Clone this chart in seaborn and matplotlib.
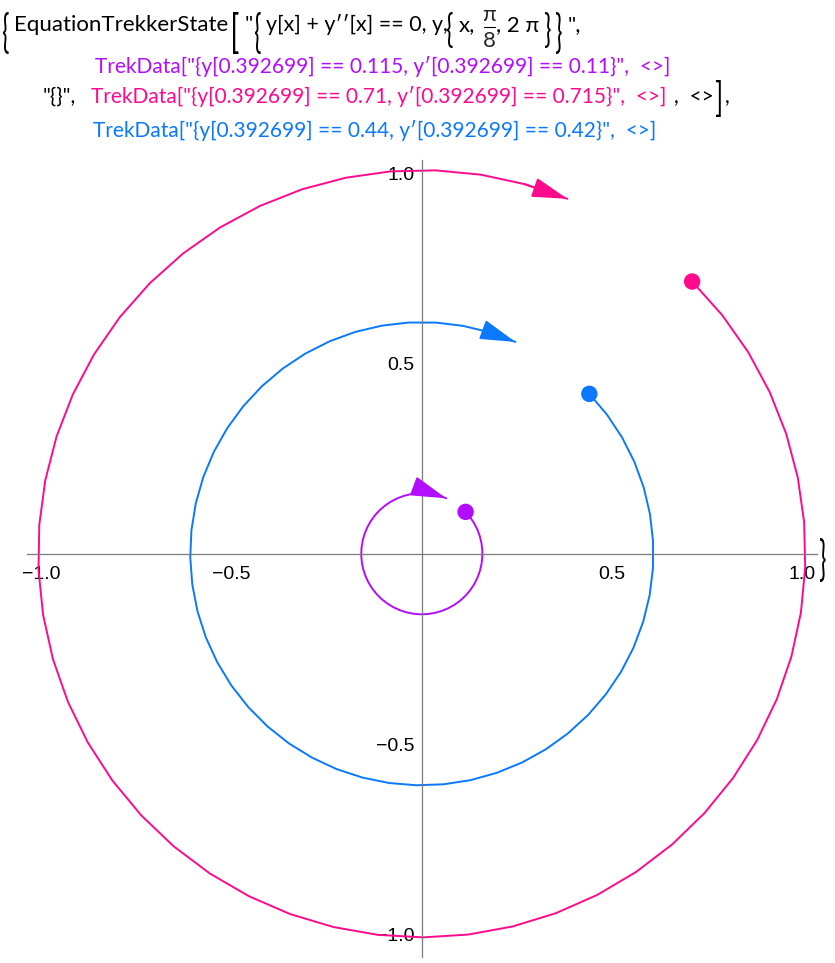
import matplotlib
matplotlib.use('Agg')
import matplotlib.pyplot as plt
from matplotlib.lines import Line2D
from matplotlib.textpath import TextPath
from matplotlib.patches import PathPatch
from matplotlib.font_manager import FontProperties
from matplotlib.transforms import Affine2D
import seaborn as sns
import pandas as pd
import numpy as np

# three treks of y'' + y == 0, started at x = pi/8 and run to 2 pi
trek_names = ['purple', 'pink', 'blue']
trek_colors = ['#b20dff', '#ff0a8c', '#0a78ff']
y_start = [0.115, 0.71, 0.44]
yp_start = [0.11, 0.715, 0.42]
x_start = 0.392699
x_end = 2 * np.pi
n_steps = 50

major_ticks = [-1.0, -0.5, 0.5, 1.0]
major_labels = ['\u22121.0', '\u22120.5', '0.5', '1.0']
minor_ticks = [-0.9, -0.8, -0.7, -0.6, -0.4, -0.3, -0.2, -0.1,
               0.1, 0.2, 0.3, 0.4, 0.6, 0.7, 0.8, 0.9]

# phase-plane solution from each initial condition
frames = []
for name, y0, v0 in zip(trek_names, y_start, yp_start):
    xs = np.linspace(x_start, x_end, n_steps + 1)
    t = xs - x_start
    frames.append(pd.DataFrame({'trek': name,
                                'y': y0 * np.cos(t) + v0 * np.sin(t),
                                'yp': -y0 * np.sin(t) + v0 * np.cos(t)}))
df = pd.concat(frames, ignore_index=True)
starts = pd.DataFrame({'trek': trek_names, 'y': y_start, 'yp': yp_start})
pal = dict(zip(trek_names, trek_colors))

sns.set_theme(style='white')
plt.rcParams['font.family'] = ['Liberation Sans', 'DejaVu Sans']

W, H = 835, 963
fig = plt.figure(figsize=(W / 100, H / 100), dpi=100)
ax = fig.add_axes([27 / W, 6 / H, 790 / W, 797 / H])

sns.lineplot(data=df, x='y', y='yp', hue='trek', palette=pal, sort=False,
             estimator=None, lw=1.4, legend=False, ax=ax)
sns.scatterplot(data=starts, x='y', y='yp', hue='trek', palette=pal, s=140,
                edgecolor='none', legend=False, ax=ax, zorder=5)

# arrowheads at the end of each trek
for name in trek_names:
    d = df[df.trek == name]
    ax.annotate('', xy=(d.y.iloc[-1], d.yp.iloc[-1]),
                xytext=(d.y.iloc[-2], d.yp.iloc[-2]),
                arrowprops=dict(arrowstyle='-|>,head_length=2.2,head_width=0.62',
                                mutation_scale=10, color=pal[name], lw=1.4,
                                shrinkA=0, shrinkB=0), zorder=4)

ax.set_xlim(-1.037, 1.038)
ax.set_ylim(-1.059, 1.034)
ax.set_aspect('equal')
ax.set_xlabel('')
ax.set_ylabel('')
for s in ['top', 'right']:
    ax.spines[s].set_visible(False)
for s in ['left', 'bottom']:
    ax.spines[s].set_position(('data', 0))
    ax.spines[s].set_color('#7a7a7a')
    ax.spines[s].set_linewidth(0.9)
ax.set_xticks(major_ticks)
ax.set_xticklabels(major_labels)
ax.set_yticks(major_ticks)
ax.set_yticklabels(major_labels)
ax.set_xticks(minor_ticks, minor=True)
ax.set_yticks(minor_ticks, minor=True)
ax.tick_params(which='both', direction='in', color='#7a7a7a', width=0.8)
ax.tick_params(which='major', length=3.2, labelsize=14, labelcolor='black')
ax.tick_params(which='minor', length=1.8)
ax.tick_params(axis='x', which='major', pad=9)
ax.tick_params(axis='y', which='major', pad=5.5)

# header expression
FAM = ['Lato', 'DejaVu Sans']
TS = 15
TS1 = 16


def put(x, y, s, color='black', size=TS):
    fig.text(x / W, 1 - y / H, s, color=color, fontsize=size, family=FAM,
             va='baseline', ha='left')


def delim(ch, x, top, bottom, size=24):
    # stretched bracket glyph, drawn in pixel coordinates
    p = TextPath((0, 0), ch, size=size, prop=FontProperties(family='Lato'))
    e = p.get_extents()
    sy = (bottom - top) / e.height
    tr = Affine2D().translate(-e.x0, -e.y0).scale(1, sy).translate(x, H - bottom)
    fig.add_artist(PathPatch(p, transform=tr, facecolor='black', lw=0))


delim('{', 3, 12, 54)
put(14, 31, 'EquationTrekkerState', size=TS1)
delim('[', 233, 12, 54, size=30)
put(245, 31, '"', size=TS1)
delim('{', 255, 12, 54)
put(266, 31, 'y[x] + y\u2032\u2032[x] == 0, y,', size=15.4)
delim('{', 447, 12, 48)
put(459, 31, 'x,', size=TS1)
fig.text(489 / W, 1 - 21 / H, '\u03c0', fontsize=TS1, family=FAM,
         ha='center', va='baseline')
fig.text(489 / W, 1 - 47 / H, '8', fontsize=TS1, family=FAM,
         ha='center', va='baseline')
fig.add_artist(Line2D([483.5 / W, 494.5 / W], [1 - 27 / H] * 2, color='black',
                      lw=0.8, transform=fig.transFigure))
put(496, 31, ', 2 \u03c0', size=TS1)
delim('}', 545, 12, 48)
delim('}', 556, 12, 54)
put(568, 31, '",', size=TS1)

put(95, 73, 'TrekData["{y[0.392699] == 0.115, y\u2032[0.392699] == 0.11}",  <>]',
    color=trek_colors[0])
put(43, 103, '"{}",')
put(91, 103, 'TrekData["{y[0.392699] == 0.71, y\u2032[0.392699] == 0.715}",  <>]',
    color=trek_colors[1])
put(674, 103, ',  <>')
delim(']', 716, 80, 117, size=26)
put(725, 103, ',')
put(93, 137, 'TrekData["{y[0.392699] == 0.44, y\u2032[0.392699] == 0.42}",  <>]',
    color=trek_colors[2])

delim('}', 820, 538, 582)

fig.savefig('out.png', dpi=100)
